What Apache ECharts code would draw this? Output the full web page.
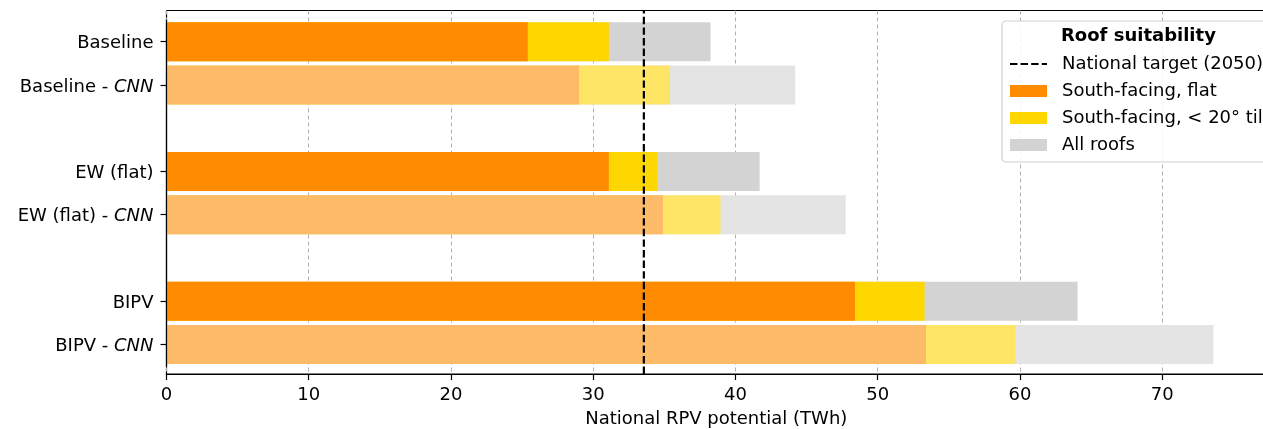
<!DOCTYPE html>
<html>
<head>
<meta charset="utf-8">
<script src="https://cdn.jsdelivr.net/npm/echarts@6/dist/echarts.min.js"></script>
<style>
  html, body { margin: 0; padding: 0; background: #fff; }
  #main { width: 1263px; height: 429px; }
</style>
</head>
<body>
<div id="main"></div>
<script>
// categories (blank entries are the gaps between groups)
var categories = ['Baseline', 'Baseline - CNN', '', 'EW (flat)', 'EW (flat) - CNN', ' ', 'BIPV', 'BIPV - CNN'];
// cumulative potential in TWh, drawn on top of each other
var southFlat = [25.4, 29.0, null, 31.1, 34.9, null, 48.4, 53.4];
var southTilt = [31.1, 35.4, null, 34.5, 38.95, null, 53.3, 59.7];
var allRoofs  = [38.25, 44.2, null, 41.7, 47.75, null, 64.05, 73.6];
var nationalTarget = 33.56;
var xTicks = [0, 10, 20, 30, 40, 50, 60, 70];

var font = 'DejaVu Sans';
var dom = document.getElementById('main');
var myChart = echarts.init(dom);

function pick(strong, light) {
    return function (p) {
        return categories[p.dataIndex].indexOf('CNN') >= 0 ? light : strong;
    };
}

var option = {
    animation: false,
    textStyle: { fontFamily: font },
    title: {
        text: 'Roof suitability',
        left: 1061, top: 27,
        padding: 0,
        textStyle: { fontFamily: font, fontSize: 18, fontWeight: 'bold', color: '#000' },
        z: 10
    },
    legend: {
        orient: 'vertical',
        left: 1002, top: 21,
        padding: [33, 12, 7, 7],
        itemWidth: 37, itemHeight: 12, itemGap: 7,
        backgroundColor: 'rgba(255,255,255,0.85)',
        borderColor: '#d0d0d0', borderWidth: 1.2, borderRadius: 4,
        textStyle: { fontFamily: font, fontSize: 18, color: '#000', lineHeight: 20, padding: [0, 0, 0, 10] },
        data: [
            { name: 'National target (2050)', itemStyle: { color: 'rgba(0,0,0,0)', borderWidth: 0 } },
            { name: 'South-facing, flat', icon: 'rect', itemStyle: { color: '#FF8C00' } },
            { name: 'South-facing, < 20° tilt', icon: 'rect', itemStyle: { color: '#FFD700' } },
            { name: 'All roofs', icon: 'rect', itemStyle: { color: '#D3D3D3' } }
        ]
    },
    grid: [
        { left: 166.5, right: -3, top: 10.5, bottom: 55, outerBoundsMode: 'none', containLabel: false,
          show: true, borderColor: '#000', borderWidth: 1.2 },
        { left: 166.5, right: -3, top: 20, bottom: 63, outerBoundsMode: 'none', containLabel: false }
    ],
    xAxis: [
        {
            gridIndex: 0, type: 'value', min: 0, max: 77.3, interval: 10,
            name: 'National RPV potential (TWh)',
            nameLocation: 'middle', nameGap: 36,
            nameTextStyle: { fontFamily: font, fontSize: 18, color: '#000' },
            axisLine: { show: true, lineStyle: { color: '#000', width: 1.2 } },
            axisTick: { show: true, length: 6, lineStyle: { color: '#000', width: 1.2 }, customValues: xTicks },
            axisLabel: { fontFamily: font, fontSize: 18, color: '#000', margin: 12, customValues: xTicks },
            splitLine: { show: true, lineStyle: { color: '#b0b0b0', type: [4, 3], width: 1 } }
        },
        { gridIndex: 1, type: 'value', min: 0, max: 77.3, show: false, splitLine: { show: false } }
    ],
    yAxis: [
        { gridIndex: 0, type: 'value', min: 0, max: 1, show: false, splitLine: { show: false } },
        {
            gridIndex: 1, type: 'category', inverse: true, data: categories, z: 5,
            axisLine: { show: true, lineStyle: { color: '#000', width: 1.2 } },
            axisTick: {
                show: true, length: 6, alignWithLabel: true,
                lineStyle: { color: '#000', width: 1.2 },
                interval: function (idx, val) { return val.trim() !== ''; }
            },
            axisLabel: {
                interval: 0, margin: 13, fontFamily: font, fontSize: 18, color: '#000',
                padding: [4, 0, 0, 0],
                formatter: function (v) { return v.replace(' - CNN', ' - {i|CNN}'); },
                rich: { i: { fontFamily: font, fontSize: 18, fontStyle: 'italic', color: '#000' } }
            },
            splitLine: { show: false }
        }
    ],
    series: [
        {
            name: 'All roofs', type: 'bar', xAxisIndex: 1, yAxisIndex: 1,
            barWidth: 39, barGap: '-100%', data: allRoofs,
            itemStyle: { color: pick('#D3D3D3', '#E4E4E4') }
        },
        {
            name: 'South-facing, < 20° tilt', type: 'bar', xAxisIndex: 1, yAxisIndex: 1,
            barWidth: 39, barGap: '-100%', data: southTilt,
            itemStyle: { color: pick('#FFD700', '#FFE566') }
        },
        {
            name: 'South-facing, flat', type: 'bar', xAxisIndex: 1, yAxisIndex: 1,
            barWidth: 39, barGap: '-100%', data: southFlat,
            itemStyle: { color: pick('#FF8C00', '#FDBA68') }
        },
        {
            name: 'National target (2050)', type: 'line', xAxisIndex: 0, yAxisIndex: 0,
            data: [[nationalTarget, 0], [nationalTarget, 1]],
            symbol: 'none', z: 10,
            itemStyle: { color: '#000' },
            lineStyle: { color: '#000', width: 2.2, type: [7.4, 3.2] }
        }
    ]
};

myChart.setOption(option);
</script>
</body>
</html>
